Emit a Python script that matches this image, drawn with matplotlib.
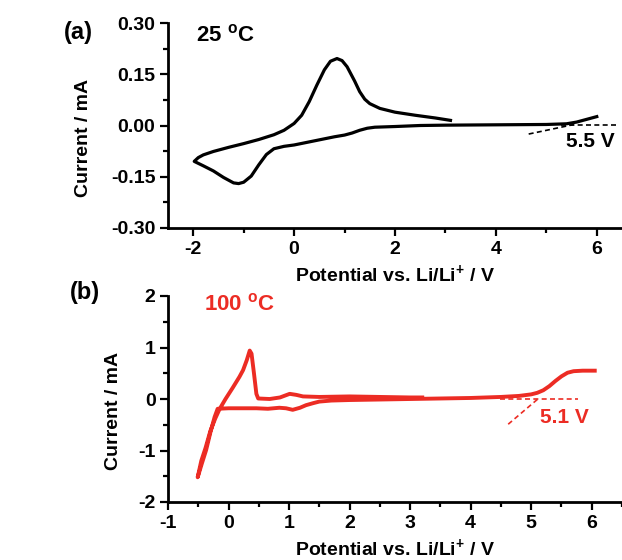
import numpy as np
import matplotlib
matplotlib.use('Agg')
import matplotlib.pyplot as plt
from matplotlib.ticker import MultipleLocator, FormatStrFormatter

plt.rcParams['font.family'] = ['Liberation Sans', 'DejaVu Sans']
plt.rcParams['font.weight'] = 'bold'
plt.rcParams['axes.unicode_minus'] = False
plt.rcParams['mathtext.fontset'] = 'custom'
plt.rcParams['mathtext.rm'] = 'Liberation Sans:bold'
plt.rcParams['mathtext.bf'] = 'Liberation Sans:bold'
plt.rcParams['mathtext.default'] = 'rm'

# (a) 25 C : back sweep 6 V -> -2 V, then forward -2 V -> 3.1 V
v_25 = [6.0, 5.8, 5.6, 5.4, 5.0, 4.0, 3.0, 2.5, 2.0, 1.6, 1.45, 1.3, 1.15, 1.0, 0.8,
        0.5, 0.2, 0.0, -0.2, -0.4, -0.55, -0.7, -0.85, -1.0, -1.1, -1.2, -1.4, -1.6,
        -1.8, -1.98,
        -1.9, -1.8, -1.6, -1.3, -1.0, -0.7, -0.4, -0.2, 0.0, 0.15, 0.3, 0.45, 0.6,
        0.72, 0.85, 0.95, 1.05, 1.2, 1.3, 1.4, 1.5, 1.7, 2.0, 2.4, 2.8, 3.1]
i_25 = [0.026, 0.018, 0.010, 0.005, 0.003, 0.002, 0.001, 0.000, -0.003, -0.005,
        -0.008, -0.014, -0.022, -0.028, -0.033, -0.042, -0.051, -0.057, -0.061,
        -0.068, -0.085, -0.115, -0.148, -0.166, -0.170, -0.168, -0.152, -0.133,
        -0.118, -0.105,
        -0.094, -0.086, -0.076, -0.064, -0.053, -0.041, -0.027, -0.014, 0.006,
        0.030, 0.070, 0.118, 0.163, 0.188, 0.196, 0.190, 0.172, 0.130, 0.099,
        0.077, 0.064, 0.050, 0.039, 0.030, 0.022, 0.015]

# (b) 100 C : back sweep 6 V -> -0.5 V, then forward -0.5 V -> 3.2 V
v_100 = [6.05, 5.85, 5.7, 5.6, 5.5, 5.4, 5.3, 5.2, 5.1, 5.0, 4.8, 4.5, 4.0, 3.5,
         3.0, 2.5, 2.0, 1.7, 1.5, 1.4, 1.28, 1.18, 1.06, 0.95, 0.84, 0.65, 0.46,
         0.2, 0.0, -0.18, -0.23, -0.3, -0.37, -0.44, -0.51,
         -0.45, -0.38, -0.3, -0.22, -0.15, -0.05, 0.07, 0.18, 0.24, 0.3, 0.35,
         0.38, 0.42, 0.46, 0.49, 0.68, 0.85, 1.01, 1.12, 1.23, 1.5, 2.0, 2.5,
         3.0, 3.2]
i_100 = [0.55, 0.55, 0.54, 0.51, 0.44, 0.35, 0.25, 0.17, 0.12, 0.09, 0.06, 0.04,
         0.02, 0.01, 0.0, -0.01, -0.02, -0.03, -0.05, -0.08, -0.12, -0.17, -0.21,
         -0.18, -0.17, -0.19, -0.18, -0.18, -0.18, -0.19, -0.35, -0.65, -0.99,
         -1.25, -1.52,
         -1.2, -0.95, -0.62, -0.38, -0.2, 0.0, 0.22, 0.43, 0.56, 0.75, 0.94,
         0.88, 0.5, 0.1, 0.01, 0.0, 0.03, 0.1, 0.08, 0.05, 0.04, 0.05, 0.04,
         0.03, 0.03]

# onset tangent lines
tan_25_v = [4.65, 5.55]
tan_25_i = [-0.025, 0.003]
base_25_v = [5.3, 6.45]
base_25_i = [0.001, 0.001]
tan_100_v = [4.62, 5.12]
tan_100_i = [-0.49, 0.01]
base_100_v = [4.48, 5.77]
base_100_i = [0.0, 0.0]

red = '#ec2c24'

fig = plt.figure(figsize=(6.22, 5.6), dpi=100)
ax1 = fig.add_axes([168/622, 1 - 228/560, 454/622, 205/560])
ax2 = fig.add_axes([168/622, 1 - 502/560, 454/622, 206/560])

ax1.plot(v_25, i_25, color='black', lw=2.3, solid_joinstyle='round')
ax1.plot(tan_25_v, tan_25_i, color='black', lw=1.2, ls=(0, (3, 2)))
ax1.plot(base_25_v, base_25_i, color='black', lw=1.2, ls=(0, (3, 2)))
ax1.set_xlim(-2.5, 6.5)
ax1.set_ylim(-0.30, 0.30)
ax1.xaxis.set_major_locator(MultipleLocator(2))
ax1.xaxis.set_minor_locator(MultipleLocator(1))
ax1.yaxis.set_major_locator(MultipleLocator(0.15))
ax1.yaxis.set_minor_locator(MultipleLocator(0.075))
ax1.yaxis.set_major_formatter(FormatStrFormatter('%.2f'))
ax1.text(-1.95, 0.265, r'25 $^{\mathrm{o}}$C', fontsize=16, fontweight='bold',
         va='center', ha='left')
ax1.text(5.38, -0.047, '5.5 V', fontsize=15, fontweight='bold', va='center', ha='left')

ax2.plot(v_100, i_100, color=red, lw=2.8, solid_joinstyle='round')
ax2.plot(tan_100_v, tan_100_i, color=red, lw=1.2, ls=(0, (3, 2)))
ax2.plot(base_100_v, base_100_i, color=red, lw=1.2, ls=(0, (3, 2)))
ax2.set_xlim(-1, 6.5)
ax2.set_ylim(-2, 2)
ax2.xaxis.set_major_locator(MultipleLocator(1))
ax2.xaxis.set_minor_locator(MultipleLocator(0.5))
ax2.yaxis.set_major_locator(MultipleLocator(1))
ax2.yaxis.set_minor_locator(MultipleLocator(0.5))
ax2.text(-0.40, 1.83, r'100 $^{\mathrm{o}}$C', fontsize=16, fontweight='bold',
         color=red, va='center', ha='left')
ax2.text(5.14, -0.35, '5.1 V', fontsize=15, fontweight='bold', color=red,
         va='center', ha='left')

for ax in (ax1, ax2):
    ax.spines['top'].set_visible(False)
    ax.spines['right'].set_visible(False)
    ax.spines['left'].set_linewidth(2)
    ax.spines['bottom'].set_linewidth(2)
    ax.tick_params(which='major', direction='out', length=6, width=1.6,
                   labelsize=14, pad=3)
    ax.tick_params(which='minor', direction='out', length=3.5, width=1.6)
    for lab in ax.get_xticklabels() + ax.get_yticklabels():
        lab.set_fontweight('bold')
    ax.set_ylabel('Current / mA', fontsize=14, fontweight='bold')
    ax.set_xlabel(r'Potential vs. Li/Li$^{+}$ / V', fontsize=14, fontweight='bold')

ax1.yaxis.set_label_coords(-0.168, 0.44)
ax1.xaxis.set_label_coords(0.5, -0.17)
ax2.yaxis.set_label_coords(-0.102, 0.44)
ax2.xaxis.set_label_coords(0.5, -0.172)

fig.text(78/622, 1 - 32/560, '(a)', fontsize=17, fontweight='bold', ha='center', va='center')
fig.text(85/622, 1 - 292/560, '(b)', fontsize=17, fontweight='bold', ha='center', va='center')

fig.savefig('out.png', dpi=100)
